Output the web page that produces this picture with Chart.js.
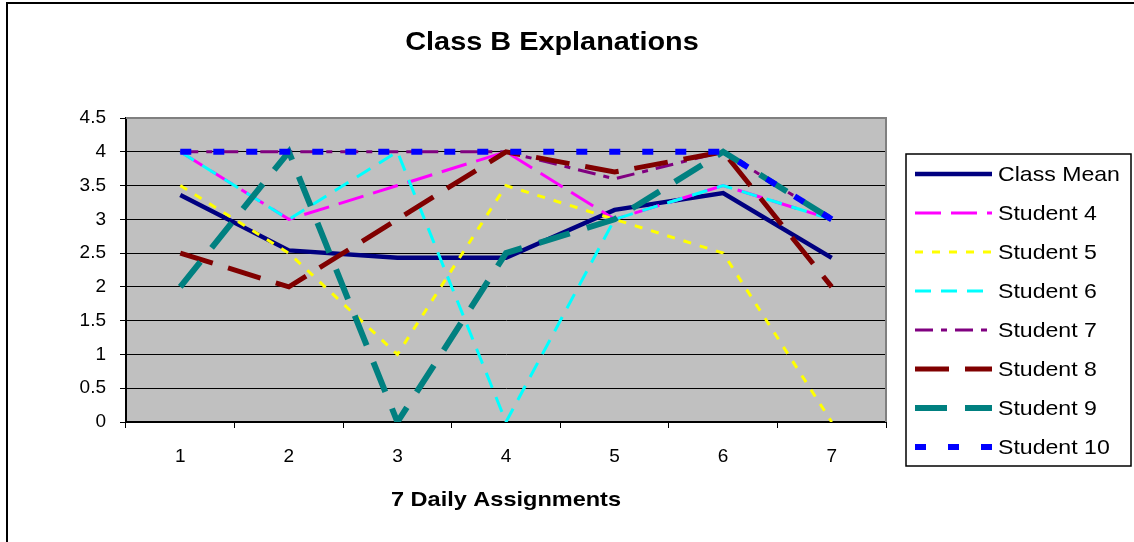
<!DOCTYPE html>
<html>
<head>
<meta charset="utf-8">
<script src="https://cdn.jsdelivr.net/npm/chart.js@4"></script>
<style>
  html, body { margin: 0; padding: 0; background: #fff; }
  canvas { display: block; }
</style>
</head>
<body>
<canvas id="chart" width="1134" height="542"></canvas>
<script>
/* Data */
const assignments = ["1", "2", "3", "4", "5", "6", "7"];
const classMean = [3.36, 2.54, 2.43, 2.43, 3.14, 3.39, 2.43];
const student4 = [4, 3, 3.5, 4, 3, 3.5, 3];
const student5 = [3.5, 2.5, 1, 3.5, 3, 2.5, 0];
const student6 = [4, 3, 4, 0, 3, 3.5, 3];
const student7 = [4, 4, 4, 4, 3.6, 4, 3];
const student8 = [2.5, 2, 3, 4, 3.7, 4, 2];
const student9 = [2, 4, 0, 2.5, 3, 4, 3];
const student10 = [4, 4, 4, 4, 4, 4, 3];
const yTicks = [0, 0.5, 1, 1.5, 2, 2.5, 3, 3.5, 4, 4.5];

const FONT = "'Liberation Sans', Arial, sans-serif";

function series(label, data, color, width, dash, order) {
  return {
    label,
    data,
    borderColor: color,
    backgroundColor: color,
    borderWidth: width,
    borderDash: dash,
    pointRadius: 0,
    pointHoverRadius: 0,
    tension: 0,
    fill: false,
    order
  };
}

/* Excel text is a bit wider than Arial, so stretch it sideways */
function stretchedText(ctx, text, x, y, font, sx, align) {
  ctx.save();
  ctx.font = font;
  ctx.textAlign = align;
  ctx.textBaseline = "middle";
  ctx.translate(x, y);
  ctx.scale(sx, 1);
  ctx.fillText(text, 0, 0);
  ctx.restore();
}

/* Background, frame, title and the boxed legend */
const excelLook = {
  id: "excelLook",
  beforeDraw(chart) {
    const { ctx, chartArea: a } = chart;
    ctx.save();
    ctx.fillStyle = "#ffffff";
    ctx.fillRect(0, 0, chart.width, chart.height);
    ctx.fillStyle = "#c0c0c0";
    ctx.fillRect(a.left, a.top, a.right - a.left, a.bottom - a.top);
    ctx.restore();
  },
  afterDatasetsDraw(chart) {
    const { ctx, chartArea: a } = chart;
    ctx.save();
    // plot border on top and right
    ctx.strokeStyle = "#808080";
    ctx.lineWidth = 2;
    ctx.beginPath();
    ctx.moveTo(a.left, a.top);
    ctx.lineTo(a.right, a.top);
    ctx.lineTo(a.right, a.bottom);
    ctx.stroke();
    ctx.restore();
  },
  afterDraw(chart) {
    const { ctx, chartArea: a } = chart;
    ctx.save();
    // outer frame
    ctx.strokeStyle = "#000";
    ctx.lineWidth = 2;
    ctx.strokeRect(7, 3, 1300, 700);

    ctx.fillStyle = "#000";
    // title
    stretchedText(ctx, "Class B Explanations", 552, 43, "bold 26px " + FONT, 1.11, "center");
    // axis title
    stretchedText(ctx, "7 Daily Assignments", (a.left + a.right) / 2, 500, "bold 21px " + FONT, 1.12, "center");

    // legend box
    const lx = 906, ly = 154, lw = 225, lh = 312;
    ctx.fillStyle = "#fff";
    ctx.fillRect(lx, ly, lw, lh);
    ctx.strokeStyle = "#000";
    ctx.lineWidth = 1.5;
    ctx.strokeRect(lx, ly, lw, lh);

    chart.data.datasets.forEach((ds, i) => {
      const y = 174 + i * 39;
      ctx.strokeStyle = ds.borderColor;
      ctx.lineWidth = ds.borderWidth;
      ctx.setLineDash(ds.borderDash || []);
      ctx.beginPath();
      ctx.moveTo(915, y);
      ctx.lineTo(992, y);
      ctx.stroke();
      ctx.setLineDash([]);
      ctx.fillStyle = "#000";
      stretchedText(ctx, ds.label, 998, y + 1, "21px " + FONT, 1.1, "left");
    });
    ctx.restore();
  }
};

const ctx = document.getElementById("chart").getContext("2d");

new Chart(ctx, {
  type: "line",
  data: {
    labels: assignments,
    datasets: [
      series("Class Mean", classMean, "#000080", 4.5, [], 7),
      series("Student 4", student4, "#ff00ff", 3, [26, 10], 6),
      series("Student 5", student5, "#ffff00", 3, [8, 9], 5),
      series("Student 6", student6, "#00ffff", 3, [16, 10], 4),
      series("Student 7", student7, "#800080", 3, [18, 8, 6, 8], 3),
      series("Student 8", student8, "#800000", 5, [34, 16], 2),
      series("Student 9", student9, "#008080", 6, [32, 18], 1),
      series("Student 10", student10, "#0000ff", 6, [11, 22], 0)
    ]
  },
  options: {
    responsive: false,
    animation: false,
    events: [],
    layout: { padding: { left: 0, top: 118, right: 248, bottom: 0 } },
    plugins: {
      legend: { display: false },
      title: { display: false },
      tooltip: { enabled: false }
    },
    scales: {
      x: {
        type: "category",
        offset: true,
        afterFit(scale) { scale.height = 120; },
        grid: {
          offset: true,
          drawOnChartArea: false,
          drawTicks: true,
          tickLength: 6,
          color: "#000",
          lineWidth: 1
        },
        border: { display: true, color: "#000", width: 2 },
        ticks: {
          color: "#000",
          padding: 17,
          maxRotation: 0,
          font: { family: FONT, size: 19 }
        }
      },
      y: {
        min: 0,
        max: 4.5,
        afterFit(scale) { scale.width = 126; },
        afterBuildTicks(scale) { scale.ticks = yTicks.map(v => ({ value: v })); },
        grid: {
          color: "#000",
          lineWidth: 1,
          drawTicks: true,
          tickLength: 6
        },
        border: { display: true, color: "#000", width: 2 },
        ticks: {
          color: "#000",
          padding: 14,
          font: { family: FONT, size: 19 },
          callback: v => String(v)
        }
      }
    }
  },
  plugins: [excelLook]
});
</script>
</body>
</html>
